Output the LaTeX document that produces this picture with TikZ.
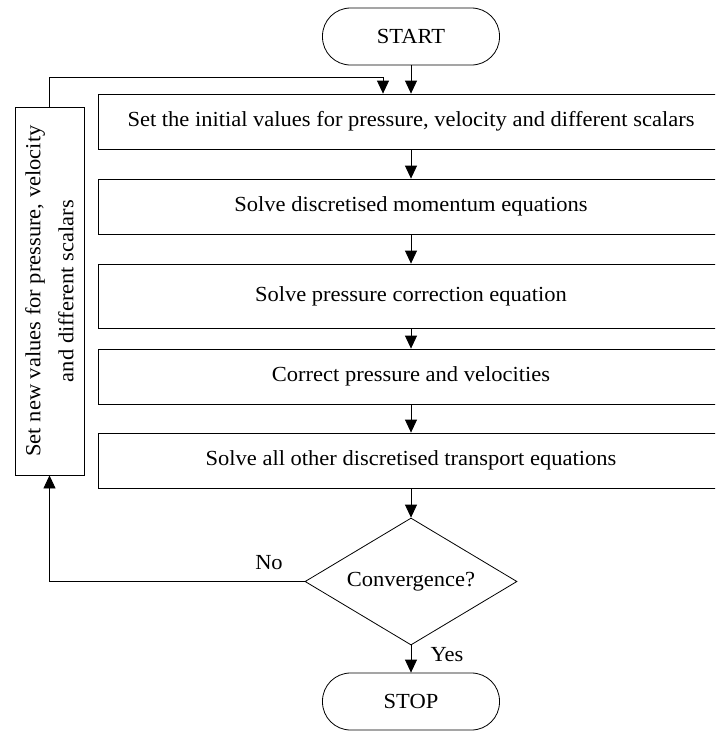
\documentclass[tikz,border=0pt]{standalone}
\usepackage{fontspec}
\usepackage{graphicx}
\setmainfont{Liberation Serif}
\usetikzlibrary{shapes.geometric,arrows.meta}
\newlength\reflinew
\newcommand\firstline{Set the initial values for pressure, velocity and different scalars}
% the first step's text is set 567pt wide; all lettering shares its factor
\AtBeginDocument{%
  \settowidth\reflinew{\fontsize{21.5}{25}\selectfont\firstline}%
  \pgfmathsetmacro\wfactmp{567/\reflinew}%
  \global\let\wfac\wfactmp}
\newcommand\wtxt[1]{\scalebox{\wfac}[1]{#1}}
\begin{document}
\begin{tikzpicture}[x=1pt,y=-1pt,
  every node/.style={font=\fontsize{21.5}{25}\selectfont},
  stepbox/.style={draw,line width=0.8pt,minimum width=626pt,minimum height=55pt,inner sep=0pt},
  term/.style={draw,line width=0.8pt,rounded corners=28pt,minimum width=177pt,minimum height=57pt,inner sep=0pt},
  decision/.style={draw,line width=0.8pt,diamond,aspect=1.67,minimum width=212pt,minimum height=127pt,inner sep=0pt},
  arr/.style={line width=0.8pt,-{Triangle[length=13pt,width=12pt]}}]
  \useasboundingbox (0,0) rectangle (715,731);
  \clip (0,0) rectangle (715,731);

  % terminals
  \node[term] (start) at (411,36.5) {\wtxt{START}};
  \node[term] (stop) at (411,701.5) {\wtxt{STOP}};

  % process steps
  \node[stepbox] (b1) at (411,121.5) {\wtxt{\firstline}};
  \node[stepbox] (b2) at (411,206.5) {\wtxt{Solve discretised momentum equations}};
  \node[stepbox,minimum height=64pt] (b3) at (411,296) {\wtxt{Solve pressure correction equation}};
  \node[stepbox] (b4) at (411,376.5) {\wtxt{Correct pressure and velocities}};
  \node[stepbox] (b5) at (411,460.5) {\wtxt{Solve all other discretised transport equations}};

  % decision
  \node[decision] (conv) at (411,581.5) {\wtxt{Convergence?}};

  % feedback box
  \node[draw,line width=0.8pt,rotate=90,minimum width=368pt,minimum height=69pt,inner sep=0pt,align=center] (upd) at (49.5,291)
    {\wtxt{Set new values for pressure, velocity}\\[8pt]\wtxt{and different scalars}};

  % main flow
  \draw[arr] (start) -- (b1);
  \draw[arr] (b1) -- (b2);
  \draw[arr] (b2) -- (b3);
  \draw[arr] (b3) -- (b4);
  \draw[arr] (b4) -- (b5);
  \draw[arr] (b5) -- (conv);
  \draw[arr] (conv) -- (stop);

  % loop back
  \draw[arr] (conv.west) -| (upd.west);
  \coordinate (loopc) at (383,77);
  \draw[arr] (upd.east) |- (loopc) -- (loopc |- b1.north);

  \node at (269,563) {\wtxt{No}};
  \node at (447,655) {\wtxt{Yes}};
\end{tikzpicture}
\end{document}
